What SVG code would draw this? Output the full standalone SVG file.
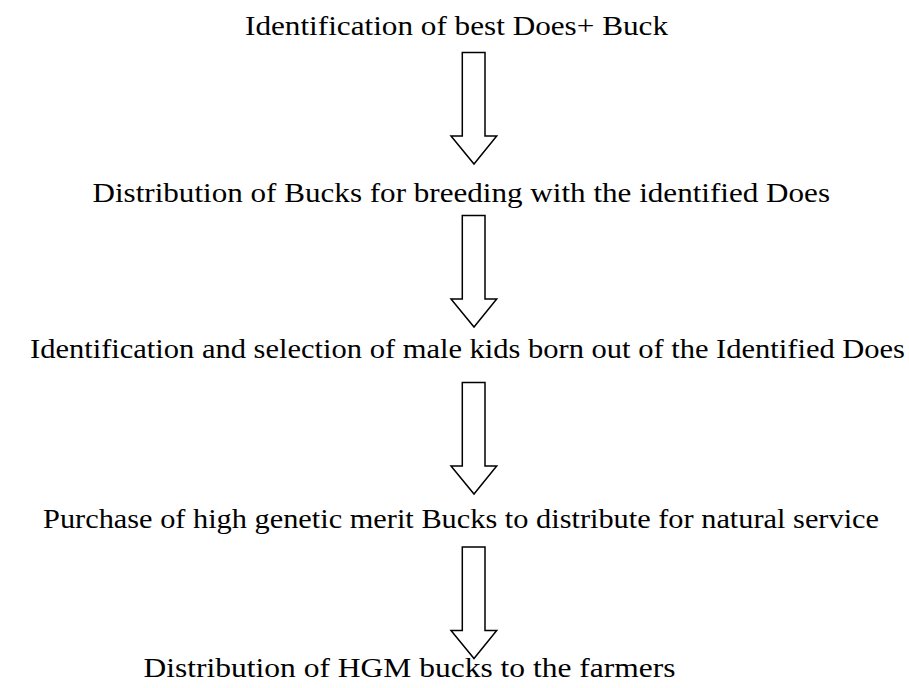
<svg xmlns="http://www.w3.org/2000/svg" width="909" height="688" viewBox="0 0 909 688">
<style>
.t{font-family:"Liberation Serif","Times New Roman",serif;font-size:28px;fill:#000}
.a{fill:#fff;stroke:#000;stroke-width:1.5;stroke-linejoin:miter}
</style>
<defs>
<path id="arr" d="M462.3,0 H485 V83.5 H496.7 L474,111.5 L451,83.5 H462.3 Z"/>
</defs>
<rect width="909" height="688" fill="#fff"/>
<g id="n1"><text class="t" x="245" y="35" textLength="423" lengthAdjust="spacingAndGlyphs">Identification of best Does+ Buck</text></g>
<g id="n2"><text class="t" x="92.5" y="201.5" textLength="737.5" lengthAdjust="spacingAndGlyphs">Distribution of Bucks for breeding with the identified Does</text></g>
<g id="n3"><text class="t" x="30" y="358" textLength="875" lengthAdjust="spacingAndGlyphs">Identification and selection of male kids born out of the Identified Does</text></g>
<g id="n4"><text class="t" x="43" y="528" textLength="836" lengthAdjust="spacingAndGlyphs">Purchase of high genetic merit Bucks to distribute for natural service</text></g>
<g id="n5"><text class="t" x="143.5" y="677" textLength="532" lengthAdjust="spacingAndGlyphs">Distribution of HGM bucks to the farmers</text></g>
<g id="connectors">
<use href="#arr" class="a" y="52.5"/>
<use href="#arr" class="a" y="215.5"/>
<use href="#arr" class="a" y="382.5"/>
<use href="#arr" class="a" y="547"/>
</g>
</svg>
